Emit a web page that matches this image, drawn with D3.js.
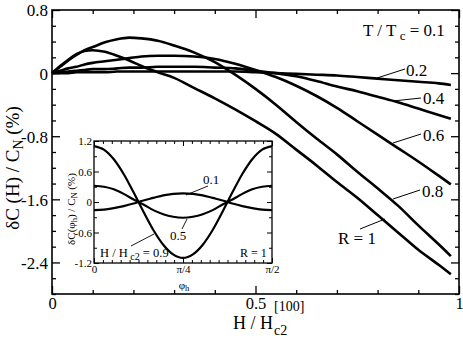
<!DOCTYPE html>
<html><head><meta charset="utf-8">
<script src="https://cdn.jsdelivr.net/npm/d3@7"></script>
<style>
html,body{margin:0;padding:0;background:#fff;}
svg{display:block;}
svg text{font-family:"Liberation Serif","Times New Roman",Times,serif !important;fill:#000;}
</style></head>
<body>
<svg id="chart" width="463" height="340" font-family="Liberation Serif, Times New Roman, serif"></svg>
<script>
// ---- main panel data: dC(H)/C_N (%) vs H/Hc2[100], T/Tc = 0.1 ----
const hField = [0,0.02,0.04,0.06,0.08,0.1,0.13,0.16,0.19,0.22,0.26,0.3,0.35,0.4,0.45,0.5,0.55,0.6,0.65,0.7,0.75,0.8,0.85,0.9,0.95,0.98];
const seriesR02 = [0,0.0,0.0,0.01,0.01,0.01,0.01,0.02,0.02,0.02,0.02,0.02,0.02,0.02,0.02,0.01,0.0,-0.01,-0.02,-0.03,-0.05,-0.07,-0.09,-0.11,-0.13,-0.15];
const seriesR04 = [0,0.01,0.02,0.03,0.04,0.05,0.05,0.06,0.07,0.07,0.08,0.08,0.08,0.07,0.06,0.03,0.0,-0.04,-0.10,-0.17,-0.23,-0.30,-0.37,-0.45,-0.53,-0.58];
const seriesR06 = [0,0.03,0.06,0.08,0.11,0.13,0.15,0.17,0.19,0.21,0.22,0.22,0.21,0.18,0.12,0.04,-0.05,-0.16,-0.29,-0.44,-0.61,-0.78,-0.95,-1.12,-1.30,-1.41];
const seriesR08 = [0,0.08,0.16,0.23,0.29,0.33,0.39,0.43,0.45,0.44,0.41,0.35,0.26,0.14,-0.02,-0.20,-0.40,-0.62,-0.83,-1.03,-1.25,-1.46,-1.68,-1.93,-2.17,-2.32];
const seriesR10 = [0,0.09,0.17,0.24,0.28,0.29,0.27,0.22,0.16,0.09,0.01,-0.06,-0.19,-0.32,-0.46,-0.61,-0.77,-0.97,-1.17,-1.38,-1.58,-1.80,-2.02,-2.24,-2.43,-2.55];
const seriesLabels = ["0.2","0.4","0.6","0.8","R = 1"];
const xTickLabels = ["0","0.5","1"];
const yTickLabels = ["0.8","0","-0.8","-1.6","-2.4"];

// ---- inset data: dC(phi_h)/C_N (%) vs phi_h (degrees), R = 1 ----
const phiDeg = [0,5,10,15,20,25,30,35,40,45,50,55,60,65,70,75,80,85,90];
const insetH09 = [1.10,1.03,0.84,0.55,0.19,-0.19,-0.55,-0.84,-1.03,-1.10,-1.03,-0.84,-0.55,-0.19,0.19,0.55,0.84,1.03,1.10];
const insetH05 = [0.32,0.30,0.25,0.16,0.05,-0.05,-0.16,-0.24,-0.29,-0.31,-0.29,-0.24,-0.16,-0.05,0.05,0.16,0.25,0.30,0.32];
const insetH01 = [-0.16,-0.15,-0.12,-0.08,-0.03,0.03,0.08,0.13,0.16,0.17,0.16,0.13,0.08,0.03,-0.03,-0.08,-0.12,-0.15,-0.16];
const insetXTickLabels = ["0","π/4","π/2"];
const insetYTickLabels = ["1.2","0.6","0","-0.6","-1.2"];

const FONT = "Liberation Serif, Times New Roman, serif";
const svg = d3.select("#chart");
const L=52, R=459, T=10, B=294;
const x = d3.scaleLinear().domain([0,1]).range([L,R]);
const y = d3.scaleLinear().domain([-2.8,0.8]).range([B,T]);

function ticksGroup(g){ g.attr("font-family",FONT); g.select(".domain").remove(); g.selectAll("line").attr("stroke","#000").attr("stroke-width",1.3); }

const xMajor=[0,0.5,1], xMinor=d3.range(0,11).map(i=>i/10).filter(v=>!xMajor.some(m=>Math.abs(m-v)<1e-9));
const yMajor=[0.8,0,-0.8,-1.6,-2.4], yMinor=d3.range(0,19).map(i=>+(0.8-i*0.2).toFixed(2)).filter(v=>!yMajor.some(m=>Math.abs(m-v)<1e-9));

// bottom
svg.append("g").attr("transform",`translate(0,${B})`).call(d3.axisBottom(x).tickValues(xMajor).tickSize(-8).tickPadding(0).tickFormat((d,i)=>xTickLabels[i])).call(ticksGroup)
  .selectAll("text").attr("font-size",16.5).attr("dy",null).attr("y",15);
svg.append("g").attr("transform",`translate(0,${B})`).call(d3.axisBottom(x).tickValues(xMinor).tickSize(-4).tickFormat("")).call(ticksGroup);
// top
svg.append("g").attr("transform",`translate(0,${T})`).call(d3.axisTop(x).tickValues(xMajor).tickSize(-8).tickFormat("")).call(ticksGroup);
svg.append("g").attr("transform",`translate(0,${T})`).call(d3.axisTop(x).tickValues(xMinor).tickSize(-4).tickFormat("")).call(ticksGroup);
// left
svg.append("g").attr("transform",`translate(${L},0)`).call(d3.axisLeft(y).tickValues(yMajor).tickSize(-8).tickPadding(4).tickFormat((d,i)=>yTickLabels[i])).call(ticksGroup)
  .selectAll("text").attr("font-size",17).attr("x",-4).attr("dy","0.35em");
svg.append("g").attr("transform",`translate(${L},0)`).call(d3.axisLeft(y).tickValues(yMinor).tickSize(-4).tickFormat("")).call(ticksGroup);
// right
svg.append("g").attr("transform",`translate(${R},0)`).call(d3.axisRight(y).tickValues(yMajor).tickSize(-8).tickFormat("")).call(ticksGroup);
svg.append("g").attr("transform",`translate(${R},0)`).call(d3.axisRight(y).tickValues(yMinor).tickSize(-4).tickFormat("")).call(ticksGroup);

svg.append("rect").attr("x",L).attr("y",T).attr("width",R-L).attr("height",B-T).attr("fill","none").attr("stroke","#000").attr("stroke-width",1.6);

// curves
const line = d3.line().x((d,i)=>x(hField[i])).y(d=>y(d)).curve(d3.curveMonotoneX);
[seriesR02,seriesR04,seriesR06,seriesR08,seriesR10].forEach(s=>{
  svg.append("path").attr("d",line(s)).attr("fill","none").attr("stroke","#000").attr("stroke-width",2.6).attr("stroke-linejoin","round");
});

// annotations main
const ann = [
  {t:seriesLabels[0], tx:406, ty:76, l:[405,69,377,78]},
  {t:seriesLabels[1], tx:423, ty:104, l:[421,98,393,101]},
  {t:seriesLabels[2], tx:423, ty:141, l:[421,134,393,143]},
  {t:seriesLabels[3], tx:422, ty:197, l:[420,190,393,199]},
  {t:seriesLabels[4], tx:338, ty:244, l:[360,229,385,219]}
];
ann.forEach(a=>{
  svg.append("text").attr("x",a.tx).attr("y",a.ty).attr("font-size",17).text(a.t);
  svg.append("line").attr("x1",a.l[0]).attr("y1",a.l[1]).attr("x2",a.l[2]).attr("y2",a.l[3]).attr("stroke","#000").attr("stroke-width",1);
});
const tt = svg.append("text").attr("x",363).attr("y",36).attr("font-size",17);
tt.append("tspan").text("T / T");
tt.append("tspan").attr("font-size",13).attr("dy",4).text(" c");
tt.append("tspan").attr("dy",-4).text(" = 0.1");

// y label
const yl = svg.append("text").attr("transform","translate(19,168) rotate(-90)").attr("text-anchor","middle").attr("font-size",19);
yl.append("tspan").text("δC (H) / C");
yl.append("tspan").attr("font-size",14).attr("dy",4).text("N");
yl.append("tspan").attr("dy",-4).text(" (%)");

// x label
const xl = svg.append("text").attr("x",233).attr("y",329).attr("font-size",18).text("H / H");
const wx = xl.node().getComputedTextLength();
svg.append("text").attr("x",233+wx+1).attr("y",311).attr("font-size",14).text("[100]");
svg.append("text").attr("x",233+wx+1).attr("y",335).attr("font-size",14).text("c2");

// ---- inset ----
const iL=94, iR=272, iT=141, iB=263;
const ix = d3.scaleLinear().domain([0,90]).range([iL,iR]);
const iy = d3.scaleLinear().domain([-1.2,1.2]).range([iB,iT]);
const ins = svg.append("g");
ins.append("rect").attr("x",iL).attr("y",iT).attr("width",iR-iL).attr("height",iB-iT).attr("fill","#fff");
const ixMajor=[0,45,90], ixMinor=d3.range(0,21).map(i=>i*4.5).filter(v=>!ixMajor.includes(v));
const iyMajor=[1.2,0.6,0,-0.6,-1.2], iyMinor=[0.9,0.3,-0.3,-0.9];
function tg(g){ g.attr("font-family",FONT); g.select(".domain").remove(); g.selectAll("line").attr("stroke","#000").attr("stroke-width",1); }
ins.append("g").attr("transform",`translate(0,${iB})`).call(d3.axisBottom(ix).tickValues(ixMajor).tickSize(-5).tickFormat((d,i)=>insetXTickLabels[i])).call(tg)
  .selectAll("text").attr("font-size",11).attr("dy",null).attr("y",10);
ins.append("g").attr("transform",`translate(0,${iB})`).call(d3.axisBottom(ix).tickValues(ixMinor).tickSize(-3).tickFormat("")).call(tg);
ins.append("g").attr("transform",`translate(0,${iT})`).call(d3.axisTop(ix).tickValues(ixMajor).tickSize(-5).tickFormat("")).call(tg);
ins.append("g").attr("transform",`translate(0,${iT})`).call(d3.axisTop(ix).tickValues(ixMinor).tickSize(-3).tickFormat("")).call(tg);
ins.append("g").attr("transform",`translate(${iL},0)`).call(d3.axisLeft(iy).tickValues(iyMajor).tickSize(-5).tickFormat((d,i)=>insetYTickLabels[i])).call(tg)
  .selectAll("text").attr("font-size",11).attr("x",-2).attr("dy","0.35em");
ins.append("g").attr("transform",`translate(${iL},0)`).call(d3.axisLeft(iy).tickValues(iyMinor).tickSize(-3).tickFormat("")).call(tg);
ins.append("g").attr("transform",`translate(${iR},0)`).call(d3.axisRight(iy).tickValues(iyMajor).tickSize(-5).tickFormat("")).call(tg);
ins.append("g").attr("transform",`translate(${iR},0)`).call(d3.axisRight(iy).tickValues(iyMinor).tickSize(-3).tickFormat("")).call(tg);
ins.append("rect").attr("x",iL).attr("y",iT).attr("width",iR-iL).attr("height",iB-iT).attr("fill","none").attr("stroke","#000").attr("stroke-width",1.3);

const iline = d3.line().x((d,i)=>ix(phiDeg[i])).y(d=>iy(d)).curve(d3.curveMonotoneX);
[insetH09,insetH05,insetH01].forEach(s=>{
  ins.append("path").attr("d",iline(s)).attr("fill","none").attr("stroke","#000").attr("stroke-width",2.2);
});
ins.append("text").attr("x",203).attr("y",184).attr("font-size",13).text("0.1");
ins.append("line").attr("x1",208).attr("y1",186).attr("x2",186).attr("y2",195).attr("stroke","#000").attr("stroke-width",0.9);
ins.append("text").attr("x",170).attr("y",240).attr("font-size",13).text("0.5");
ins.append("line").attr("x1",182).attr("y1",229).attr("x2",187).attr("y2",219).attr("stroke","#000").attr("stroke-width",0.9);
const hl = ins.append("text").attr("x",100).attr("y",257).attr("font-size",12.5);
hl.append("tspan").text("H / H");
hl.append("tspan").attr("font-size",10).attr("dy",3).text(" c2");
hl.append("tspan").attr("dy",-3).text(" = 0.9");
ins.append("line").attr("x1",131).attr("y1",246).attr("x2",154).attr("y2",234).attr("stroke","#000").attr("stroke-width",0.9);
ins.append("text").attr("x",240).attr("y",257).attr("font-size",12).text("R = 1");
// inset axis labels
const phl = ins.append("text").attr("x",184).attr("y",289).attr("text-anchor","middle").attr("font-size",11);
phl.append("tspan").text("φ");
phl.append("tspan").attr("font-size",8.5).attr("dy",2).text("h");
const iyl = ins.append("text").attr("transform","translate(75,209) rotate(-90)").attr("text-anchor","middle").attr("font-size",11);
iyl.append("tspan").text("δC(φ");
iyl.append("tspan").attr("font-size",8.5).attr("dy",2).text("h");
iyl.append("tspan").attr("dy",-2).text(") / C");
iyl.append("tspan").attr("font-size",8.5).attr("dy",2).text("N");
iyl.append("tspan").attr("dy",-2).text(" (%)");
</script>
</body></html>
